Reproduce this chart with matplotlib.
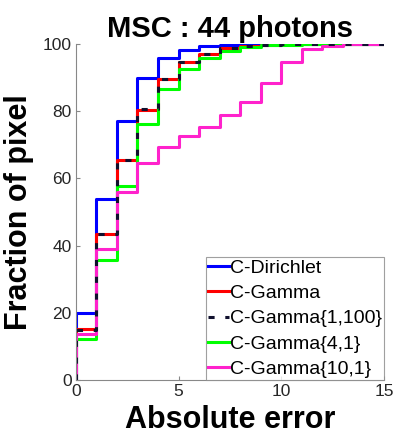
import numpy as np
import matplotlib.pyplot as plt

plt.rcParams['font.family'] = ['Liberation Sans', 'DejaVu Sans']

# absolute error bins 0..15, cumulative fraction of pixels (%)
errors = list(range(16))
dirichlet = [20, 54, 77.2, 89.8, 95.7, 98.2, 99.4, 99.7, 99.9, 100, 100, 100, 100, 100, 100, 100]
gamma = [15.3, 43.5, 65.5, 80.4, 89.5, 94.5, 97.0, 98.7, 99.5, 99.8, 100, 100, 100, 100, 100, 100]
gamma_1_100 = [15.0, 43.5, 65.5, 80.6, 89.5, 94.6, 97.0, 98.7, 99.5, 99.8, 100, 100, 100, 100, 100, 100]
gamma_4_1 = [12.1, 35.7, 57.7, 76.1, 86.5, 92.5, 95.7, 98.0, 99.2, 99.6, 99.8, 100, 100, 100, 100, 100]
gamma_10_1 = [13.6, 38.9, 56.0, 64.5, 69.2, 72.6, 75.4, 78.9, 82.8, 88.5, 94.5, 98.5, 99.5, 99.9, 100, 100]

series = [
    ('C-Dirichlet', dirichlet, '#0000FF', '-'),
    ('C-Gamma', gamma, '#FF0000', '-'),
    ('C-Gamma{1,100}', gamma_1_100, '#10102E', (0, (2.0, 3.5))),
    ('C-Gamma{4,1}', gamma_4_1, '#00FF00', '-'),
    ('C-Gamma{10,1}', gamma_10_1, '#FF22CC', '-'),
]

fig = plt.figure(figsize=(3.95, 4.43), dpi=100)
ax = fig.add_axes([0.192, 0.142, 0.780, 0.759])

order = [0, 1, 3, 4, 2]  # draw dashed black on top of red
handles = {}
for i in order:
    name, vals, col, ls = series[i]
    x = [0] + errors
    y = [0] + vals
    h, = ax.step(x, y, where='post', color=col, linestyle=ls, linewidth=2.2, label=name)
    handles[i] = h

ax.set_xlim(0, 15)
ax.set_ylim(0, 100)
ax.set_xticks([0, 5, 10, 15])
ax.set_yticks([0, 20, 40, 60, 80, 100])
ax.tick_params(direction='in', labelsize=12.5, length=3, pad=3, colors='#888888', labelcolor='#262626')
for s in ['top', 'right']:
    ax.spines[s].set_visible(False)
for s in ['left', 'bottom']:
    ax.spines[s].set_color('#888888')

ax.set_title('MSC : 44 photons', fontsize=21, fontweight='bold', pad=5)
ax.set_xlabel('Absolute error', fontsize=22, fontweight='bold', labelpad=4)
ax.set_ylabel('Fraction of pixel', fontsize=22, fontweight='bold')
ax.yaxis.set_label_coords(-0.135, 0.5)

leg = ax.legend([handles[i] for i in range(5)], [s[0] for s in series],
                loc='lower right', bbox_to_anchor=(1.0, 0.0), fontsize=14,
                frameon=True, fancybox=False, borderpad=0.1, labelspacing=0.4,
                handlelength=1.1, handletextpad=0.05, borderaxespad=0.0)
leg.get_frame().set_edgecolor('#888888')
leg.get_frame().set_linewidth(0.8)

fig.savefig('out.png', dpi=100)
